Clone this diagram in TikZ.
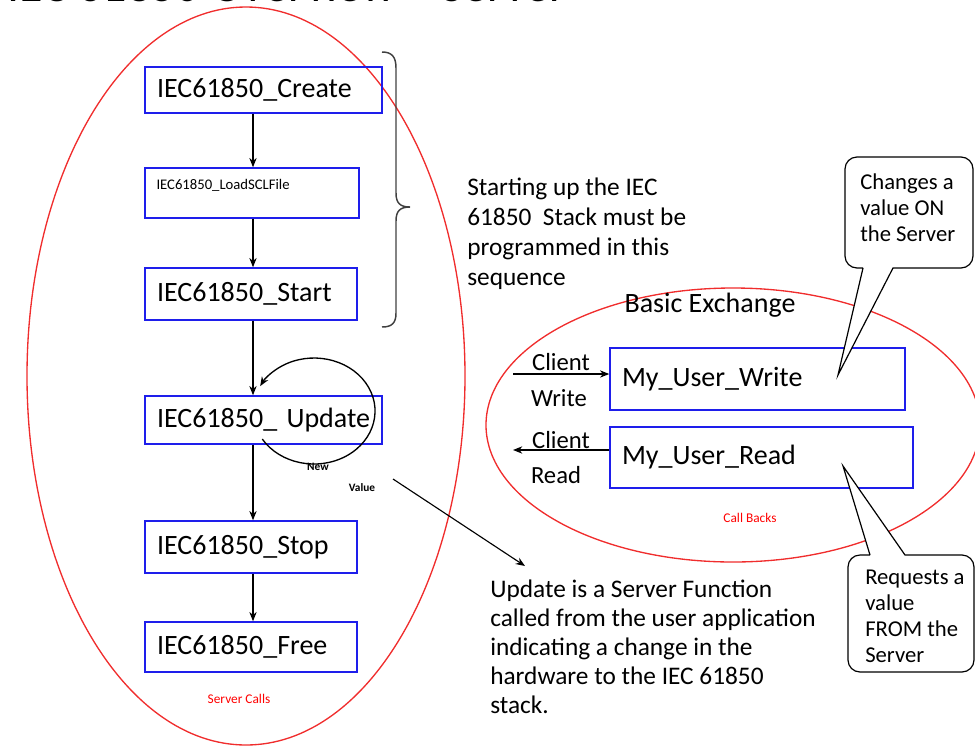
\documentclass[tikz,border=0pt]{standalone}
\usepackage{fontspec}
\setmainfont{Carlito}
\usetikzlibrary{arrows.meta,calc}
\definecolor{ellred}{RGB}{240,45,45}
\definecolor{boxblue}{RGB}{30,30,235}
\begin{document}
\begin{tikzpicture}[x=0.75pt,y=-0.75pt,
  fbox/.style={draw=boxblue, line width=1.1pt, inner xsep=9pt, inner ysep=0pt, align=left, font=\fontsize{21}{25}\selectfont},
  arr/.style={draw=black, line width=0.85pt, -{Stealth[length=7pt,width=5.5pt]}},
  redell/.style={draw=ellred, line width=1pt},
  callout/.style={draw=black, fill=white, line width=0.9pt},
  para/.style={align=left, inner sep=0pt, anchor=north west},
  lbl/.style={inner sep=0pt, font=\fontsize{18.5}{21}\selectfont},
  redtxt/.style={inner sep=0pt, text=red, font=\fontsize{10}{12}\selectfont},
  smallbold/.style={inner sep=0pt, font=\bfseries\fontsize{8.5}{10}\selectfont},
  bracel/.style={draw=black!75, line width=1.1pt}]
\useasboundingbox (0,0) rectangle (975,747);

% title (cut off at top)
\node[anchor=base west, inner sep=0pt, font=\fontsize{36}{40}\selectfont] (title) at (7,1.5) {IEC 61850 Overview – Server};

% ellipses
\draw[redell] (246,376) ellipse [x radius=219, y radius=369];
\draw[redell] (733,425) ellipse [x radius=247, y radius=137];

% server call boxes
\node[fbox, text width=159.75pt, minimum height=34.5pt] (create) at (263.5,90) {IEC61850\_Create};
\node[fbox, minimum width=160.5pt, minimum height=37.5pt,
      label={[anchor=north west, inner sep=0pt, xshift=9pt, yshift=-9pt, font=\fontsize{11}{13}\selectfont]north west:IEC61850\_LoadSCLFile}] (load) at (252,193) {};
\node[fbox, text width=141pt, minimum height=39pt] (start) at (251,294) {IEC61850\_Start};
\node[fbox, text width=159.75pt, minimum height=36pt] (update) at (263.5,420) {\mbox{IEC61850\_ Update}};
\node[fbox, text width=141pt, minimum height=39pt] (stop) at (251,547) {IEC61850\_Stop};
\node[fbox, text width=141pt, minimum height=37.5pt] (free) at (251,647) {IEC61850\_Free};

\coordinate (ax) at (253,0);
\draw[arr] (create.south -| ax) -- (load.north -| ax);
\draw[arr] (load.south -| ax) -- (start.north -| ax);
\draw[arr] (start.south -| ax) -- (update.north -| ax);
\draw[arr] (update.south -| ax) -- (stop.north -| ax);
\draw[arr] (stop.south -| ax) -- (free.north -| ax);

% update loop
\draw[arr, line width=1pt] ([shift={(-1.2,19.1)}]update.center) arc[start angle=148, end angle=-152, x radius=61, y radius=53];
\node[smallbold] (new) at (318,467) {New};
\node[smallbold] (value) at (362,488) {Value};

\node[redtxt] (servercalls) at (239,699) {Server Calls};

% brace
\draw[bracel] (382,52) .. controls (392,52) and (396,57) .. (396,68) -- (396,193)
  .. controls (396,203) and (400,207) .. (410,207)
  .. controls (400,207) and (396,211) .. (396,221) -- (396,313)
  .. controls (396,323) and (392,327) .. (382,327);

\node[para, font=\fontsize{19}{22.5}\selectfont] (starttxt) at (467,178) {Starting up the IEC\\61850~ Stack must be\\programmed in this\\sequence};

% update explanation
\coordinate (d1) at (393,479);
\coordinate (d2) at (525,566);
\draw[arr] (d1) -- (d2);
\node[para, font=\fontsize{19}{21.75}\selectfont] (updtxt) at (490,580) {Update is a Server Function\\called from the user application\\indicating a change in the\\hardware to the IEC 61850\\stack.};

% basic exchange
\node[inner sep=0pt, font=\fontsize{21}{25}\selectfont] (basic) at (710,305) {Basic Exchange};
\node[fbox, text width=203.25pt, minimum height=46.5pt] (wbox) at (757.5,379) {My\_User\_Write};
\node[fbox, text width=209.25pt, minimum height=45.75pt] (rbox) at (761.5,457.5) {My\_User\_Read};

\node[lbl] (cl1) at (561,362) {Client};
\node[lbl] (wr) at (559,398) {Write};
\node[lbl] (cl2) at (561,440) {Client};
\node[lbl] (rd) at (556,475) {Read};
\coordinate (wl) at (513,374);
\draw[arr] (wl) -- (wl -| wbox.west);
\coordinate (rl) at (513,450);
\draw[arr] (rl -| rbox.west) -- (rl);

\node[redtxt] (callbacks) at (750,518) {Call Backs};

% callouts
\coordinate (t1) at (838,375);
\draw[callout] (863,268) -- (t1) -- (893,268) [rounded corners=9pt] -- (973,268) -- (973,157) -- (845,157) -- (845,268) -- (863,268);
\node[para, font=\fontsize{17}{19.5}\selectfont] (c1txt) at (860,173) {Changes a\\value ON\\the Server};

\coordinate (t2) at (843,466);
\draw[callout] (870,555) -- (t2) -- (905,555) [rounded corners=9pt] -- (974,555) -- (974,672) -- (848,672) -- (848,555) -- (870,555);
\node[para, font=\fontsize{17}{19.5}\selectfont] (c2txt) at (865,570) {Requests a\\value\\FROM the\\Server};
\end{tikzpicture}
\end{document}
